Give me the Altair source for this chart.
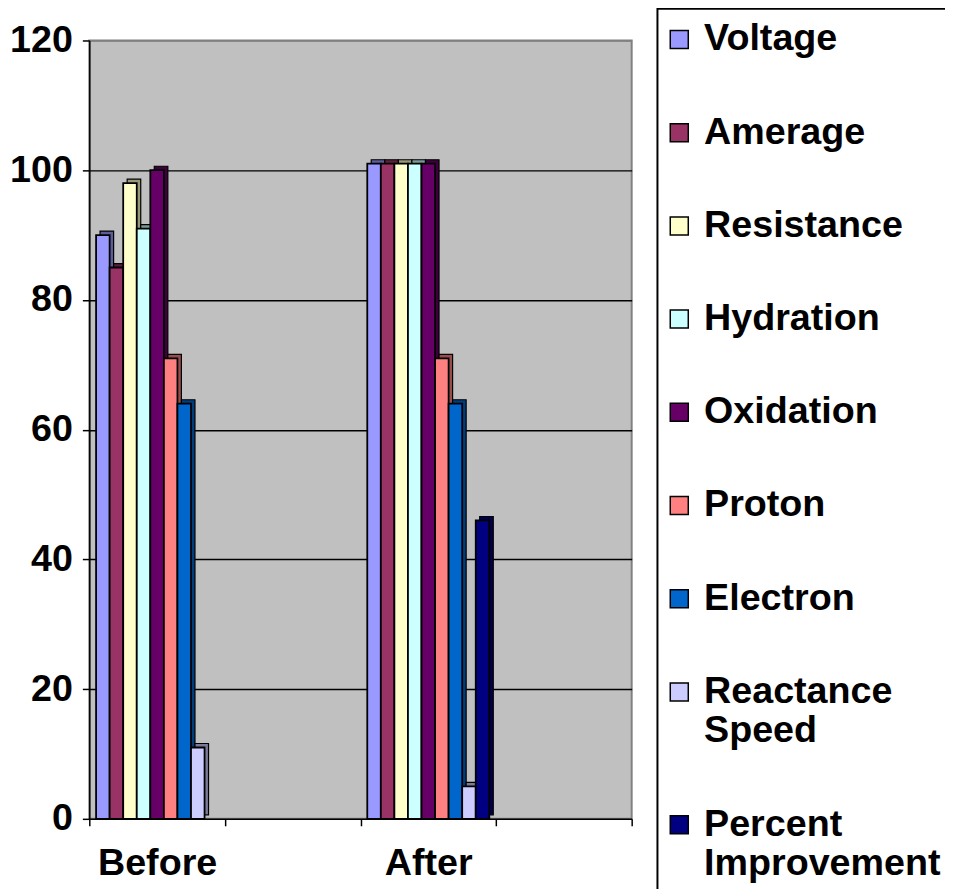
import altair as alt
import pandas as pd

categories = ["Before", "", "After", " "]
series = ["Voltage", "Amerage", "Resistance", "Hydration", "Oxidation",
          "Proton", "Electron", "Reactance Speed", "Percent Improvement"]
before_values = [90, 85, 98, 91, 100, 71, 64, 11, 0]
after_values = [101, 101, 101, 101, 101, 71, 64, 5, 46]
y_ticks = [0, 20, 40, 60, 80, 100, 120]

front_colors = ["#9999FF", "#993366", "#FFFFCC", "#CCFFFF", "#660066",
                "#FF8080", "#0066CC", "#CCCCFF", "#000080"]
side_colors = ["#5C5C99", "#5C1F3D", "#99997A", "#7A9999", "#3D003D",
               "#994D4D", "#003D7A", "#7A7A99", "#00004D"]

rows = []
for cat, vals in (("Before", before_values), ("After", after_values)):
    for s, v in zip(series, vals):
        rows.append({"category": cat, "series": s, "value": v})
df = pd.DataFrame(rows)

FONT = "Liberation Sans"
FS = 38
W, H = 547, 785
BAND = W / len(categories)
DEPTH = 4

x_enc = alt.X("category:N", scale=alt.Scale(domain=categories, paddingInner=0, paddingOuter=0),
              sort=categories,
              axis=alt.Axis(title=None, tickBand="extent", labelAngle=0, labelFont=FONT,
                            labelFontSize=FS, labelFontWeight="bold", labelColor="black",
                            labelPadding=19, tickSize=7, tickColor="black", tickWidth=1.5,
                            domainColor="black", domainWidth=1.5, grid=False))
y_enc = alt.Y("value:Q", scale=alt.Scale(domain=[0, 120], nice=False),
              axis=alt.Axis(title=None, values=y_ticks, labelFont=FONT, labelFontSize=FS,
                            labelFontWeight="bold", labelColor="black", labelPadding=10,
                            tickSize=7, tickColor="black", tickWidth=1.5,
                            domainColor="black", domainWidth=1.5,
                            gridColor={"condition": {"test": "datum.value == 120 || datum.value == 0",
                                                     "value": "#808080"},
                                       "value": "black"},
                            gridWidth=1.5))

base = alt.Chart(df).transform_filter("datum.value > 0")

depth = base.mark_bar(yOffset=-DEPTH, stroke="black", strokeWidth=1.2).encode(
    x=x_enc,
    xOffset=alt.XOffset("series:N", sort=series,
                        scale=alt.Scale(domain=series, paddingInner=0, paddingOuter=0.5,
                                        range=[DEPTH, BAND + DEPTH])),
    y=y_enc,
    fill=alt.Fill("series:N", sort=series,
                  scale=alt.Scale(domain=series, range=side_colors), legend=None),
)

front = base.mark_bar(stroke="black", strokeWidth=1.8).encode(
    x=x_enc,
    xOffset=alt.XOffset("series:N", sort=series,
                        scale=alt.Scale(domain=series, paddingInner=0, paddingOuter=0.5)),
    y=y_enc,
    color=alt.Color("series:N", sort=series,
                    scale=alt.Scale(domain=series, range=front_colors),
                    legend=alt.Legend(
                        title=None, orient="none", legendX=573, legendY=-32,
                        symbolType="square", symbolSize=330, symbolStrokeColor="black",
                        symbolStrokeWidth=1.5, symbolOffset=-9, labelFont=FONT, labelFontSize=FS,
                        labelFontWeight="bold", labelColor="black", labelOffset=6,
                        labelLimit=400, padding=12, rowPadding=56,
                        strokeColor="black", fillColor="white",
                        labelExpr="split(datum.label, ' ')")),
)

chart = alt.layer(depth, front).resolve_scale(
    xOffset="independent", color="independent", fill="independent"
).resolve_legend(
    color="independent", fill="independent"
).properties(
    width=W, height=H,
    background="white",
    autosize=alt.AutoSizeParams(type="none"),
    padding={"left": 82, "top": 29, "right": 316, "bottom": 67},
).configure_view(
    fill="#C0C0C0", stroke="#808080", strokeWidth=2
).configure_legend(
    strokeWidth=2
)

chart.save("out.html", embed_options={"renderer": "svg", "actions": False})
